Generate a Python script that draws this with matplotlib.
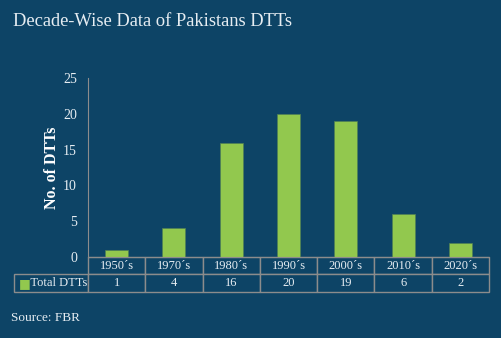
import matplotlib
matplotlib.use("Agg")
import matplotlib.pyplot as plt

# Data
decades = ["1950´s", "1970´s", "1980´s", "1990´s", "2000´s", "2010´s", "2020´s"]
total_dtts = [1, 4, 16, 20, 19, 6, 2]
series_name = "Total DTTs"

BG = "#0d4466"
BAR = "#92c84e"
EDGE = "#8c8c8c"
TXT = "#e6edf2"

plt.rcParams['font.family'] = ['Liberation Serif', 'DejaVu Serif']

fig = plt.figure(figsize=(5.02, 3.38), dpi=100, facecolor=BG)
ax = fig.add_axes([0.1753, 0.2396, 0.799, 0.529], facecolor=BG)

x = range(len(decades))
ax.bar(x, total_dtts, width=0.4, color=BAR, edgecolor="#4f7f55", linewidth=0.5)
ax.set_xlim(-0.5, len(decades) - 0.5)
ax.set_ylim(0, 25)
ax.set_yticks([0, 5, 10, 15, 20, 25])
ax.set_xticks([])
ax.tick_params(axis='y', length=0, colors=TXT, labelsize=10, pad=8)
for side in ['top', 'right']:
    ax.spines[side].set_visible(False)
ax.spines['left'].set_color(EDGE)
ax.spines['bottom'].set_color(EDGE)
ax.set_ylabel("No. of DTTs", color="white", fontsize=11.5, fontweight='bold', labelpad=2)

# Data table under the axes
cell_text = [[""] + decades, ["     " + series_name] + [str(v) for v in total_dtts]]
left = (14 - 88) / 401
col_w = [-left] + [1 / len(decades)] * len(decades)
tbl = ax.table(cellText=cell_text, colWidths=col_w, cellLoc='center',
               bbox=[left, -0.1955, 1 - left, 0.1955])
tbl.auto_set_font_size(False)
tbl.set_fontsize(9)
for (r, c), cell in tbl.get_celld().items():
    cell.set_facecolor(BG)
    cell.set_edgecolor(EDGE)
    cell.set_linewidth(1.0)
    cell.get_text().set_color(TXT)
    if r == 0 and c == 0:
        cell.visible_edges = ''
    if r == 1 and c == 0:
        cell.get_text().set_ha('left')
        cell._loc = 'left'
        cell.PAD = 0.02

# legend marker in table row label
fig.text(19 / 502, 1 - 284 / 338, "■", color=BAR, fontsize=9, va='center',
         family=['DejaVu Sans'])

fig.text(13 / 502, 1 - 22 / 338, "Decade-Wise Data of Pakistans DTTs",
         color=TXT, fontsize=13.3, va='center', ha='left')
fig.text(11 / 502, 1 - 318 / 338, "Source: FBR", color=TXT, fontsize=9.5,
         va='center', ha='left')

fig.savefig("out.png", dpi=100, facecolor=BG)
